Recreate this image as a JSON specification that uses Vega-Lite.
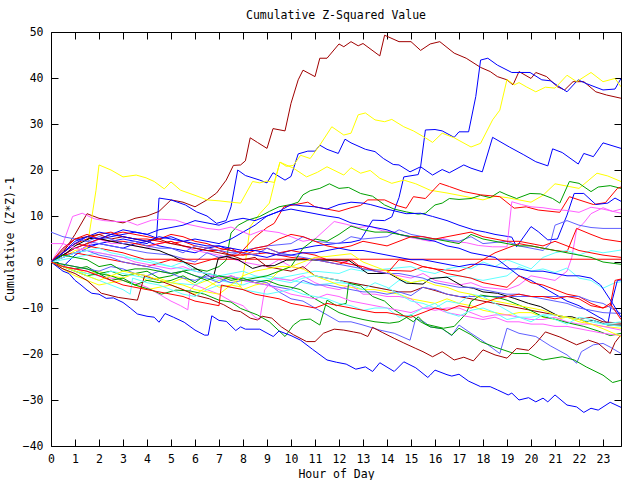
{
"$schema": "https://vega.github.io/schema/vega-lite/v6.json",
"width": 570, "height": 414, "autosize": "none",
"padding": {"left": 51, "top": 32, "right": 19, "bottom": 34},
"background": "white",
"title": {"text": "Cumulative Z-Squared Value", "font": "DejaVu Sans Mono", "fontSize": 11.5, "fontWeight": "normal", "color": "#000", "offset": 5, "anchor": "middle"},
"config": {
  "view": {"stroke": "#000", "strokeWidth": 1},
  "axis": {"domain": false, "grid": false, "tickColor": "#000", "tickSize": -7, "tickWidth": 1, "labelFont": "DejaVu Sans Mono", "labelFontSize": 11.5, "labelColor": "#000", "titleFont": "DejaVu Sans Mono", "titleFontSize": 11.5, "titleFontWeight": "normal", "titleColor": "#000", "labelFlush": false, "labelOverlap": false}
},
"datasets": {"d": [
{"s":"dr1","h":0,"v":0},{"s":"dr1","h":0.5,"v":2},{"s":"dr1","h":1,"v":6},{"s":"dr1","h":1.5,"v":10.5},{"s":"dr1","h":2,"v":9.5},{"s":"dr1","h":2.5,"v":9},{"s":"dr1","h":3,"v":8.5},{"s":"dr1","h":3.5,"v":9.5},{"s":"dr1","h":4,"v":10},{"s":"dr1","h":4.5,"v":11},{"s":"dr1","h":5,"v":13.5},{"s":"dr1","h":5.5,"v":13},{"s":"dr1","h":6,"v":12},{"s":"dr1","h":6.5,"v":13.5},{"s":"dr1","h":6.9,"v":15},{"s":"dr1","h":7.3,"v":17.8},{"s":"dr1","h":7.6,"v":21},{"s":"dr1","h":7.9,"v":21.1},{"s":"dr1","h":8.1,"v":22},{"s":"dr1","h":8.3,"v":27},{"s":"dr1","h":8.6,"v":26},{"s":"dr1","h":9,"v":24.7},{"s":"dr1","h":9.25,"v":29},{"s":"dr1","h":9.75,"v":28.5},{"s":"dr1","h":10,"v":34.5},{"s":"dr1","h":10.3,"v":39.6},{"s":"dr1","h":10.5,"v":41.7},{"s":"dr1","h":11,"v":40.3},{"s":"dr1","h":11.2,"v":44.3},{"s":"dr1","h":11.5,"v":44.3},{"s":"dr1","h":12,"v":47.4},{"s":"dr1","h":12.2,"v":46.8},{"s":"dr1","h":12.5,"v":47.9},{"s":"dr1","h":12.8,"v":47},{"s":"dr1","h":13,"v":47.5},{"s":"dr1","h":13.7,"v":44.8},{"s":"dr1","h":13.9,"v":49.3},{"s":"dr1","h":14.5,"v":47.9},{"s":"dr1","h":15,"v":47.9},{"s":"dr1","h":15.4,"v":46},{"s":"dr1","h":15.8,"v":47.4},{"s":"dr1","h":16.2,"v":47.9},{"s":"dr1","h":16.8,"v":45.4},{"s":"dr1","h":17.3,"v":44.3},{"s":"dr1","h":17.9,"v":42.3},{"s":"dr1","h":18.3,"v":41.4},{"s":"dr1","h":18.6,"v":40.3},{"s":"dr1","h":19,"v":39.6},{"s":"dr1","h":19.25,"v":38.5},{"s":"dr1","h":19.5,"v":41.4},{"s":"dr1","h":20,"v":39.9},{"s":"dr1","h":20.2,"v":41.2},{"s":"dr1","h":20.65,"v":40.3},{"s":"dr1","h":21.1,"v":38.1},{"s":"dr1","h":21.4,"v":37.4},{"s":"dr1","h":21.75,"v":39.2},{"s":"dr1","h":22.2,"v":39.2},{"s":"dr1","h":22.7,"v":37},{"s":"dr1","h":23.15,"v":36.3},{"s":"dr1","h":23.75,"v":35.6},
{"s":"b1","h":0,"v":0},{"s":"b1","h":0.5,"v":-1},{"s":"b1","h":1,"v":1.5},{"s":"b1","h":1.5,"v":3},{"s":"b1","h":2,"v":4},{"s":"b1","h":2.5,"v":3.5},{"s":"b1","h":3,"v":3},{"s":"b1","h":3.5,"v":4},{"s":"b1","h":4,"v":4.5},{"s":"b1","h":4.5,"v":3.5},{"s":"b1","h":5,"v":3},{"s":"b1","h":5.5,"v":2.5},{"s":"b1","h":6,"v":2},{"s":"b1","h":6.5,"v":3},{"s":"b1","h":7,"v":3.5},{"s":"b1","h":7.5,"v":2.5},{"s":"b1","h":8,"v":2},{"s":"b1","h":8.5,"v":1.5},{"s":"b1","h":9,"v":1},{"s":"b1","h":9.5,"v":1.8},{"s":"b1","h":10,"v":2.5},{"s":"b1","h":10.5,"v":3},{"s":"b1","h":11,"v":3.5},{"s":"b1","h":11.5,"v":3.8},{"s":"b1","h":12,"v":4.1},{"s":"b1","h":12.5,"v":4.3},{"s":"b1","h":12.9,"v":4.8},{"s":"b1","h":13.4,"v":9.1},{"s":"b1","h":13.9,"v":9},{"s":"b1","h":14.2,"v":9.8},{"s":"b1","h":14.5,"v":14},{"s":"b1","h":14.7,"v":18.5},{"s":"b1","h":15.3,"v":19},{"s":"b1","h":15.4,"v":20.7},{"s":"b1","h":15.6,"v":28.7},{"s":"b1","h":16,"v":28.8},{"s":"b1","h":16.3,"v":28.5},{"s":"b1","h":16.8,"v":27.1},{"s":"b1","h":17,"v":28.3},{"s":"b1","h":17.4,"v":28.3},{"s":"b1","h":17.7,"v":36},{"s":"b1","h":17.9,"v":43.9},{"s":"b1","h":18.2,"v":44.3},{"s":"b1","h":18.6,"v":42.8},{"s":"b1","h":19.2,"v":41.2},{"s":"b1","h":19.96,"v":41.2},{"s":"b1","h":20.45,"v":39.6},{"s":"b1","h":20.8,"v":39.4},{"s":"b1","h":21.5,"v":37},{"s":"b1","h":21.96,"v":39.6},{"s":"b1","h":22.3,"v":38.8},{"s":"b1","h":23,"v":37.4},{"s":"b1","h":23.5,"v":37.6},{"s":"b1","h":23.75,"v":39.9},
{"s":"b2","h":0,"v":0},{"s":"b2","h":0.5,"v":1},{"s":"b2","h":1,"v":2},{"s":"b2","h":1.5,"v":3.5},{"s":"b2","h":2,"v":4},{"s":"b2","h":2.5,"v":4.5},{"s":"b2","h":3,"v":5},{"s":"b2","h":3.5,"v":4.5},{"s":"b2","h":4,"v":4},{"s":"b2","h":4.4,"v":5.4},{"s":"b2","h":4.5,"v":13.9},{"s":"b2","h":5,"v":13.5},{"s":"b2","h":5.6,"v":12.4},{"s":"b2","h":6.07,"v":10.9},{"s":"b2","h":6.5,"v":10},{"s":"b2","h":6.9,"v":8.4},{"s":"b2","h":7.3,"v":9},{"s":"b2","h":7.5,"v":12},{"s":"b2","h":7.78,"v":20},{"s":"b2","h":8.1,"v":18.8},{"s":"b2","h":8.7,"v":17.8},{"s":"b2","h":9,"v":17.2},{"s":"b2","h":9.25,"v":19.4},{"s":"b2","h":9.75,"v":17.8},{"s":"b2","h":10,"v":18.6},{"s":"b2","h":10.3,"v":23.5},{"s":"b2","h":10.7,"v":24.1},{"s":"b2","h":11,"v":24.1},{"s":"b2","h":11.2,"v":25.4},{"s":"b2","h":11.5,"v":24.5},{"s":"b2","h":11.97,"v":23.6},{"s":"b2","h":12.25,"v":26.7},{"s":"b2","h":12.5,"v":25.9},{"s":"b2","h":13.1,"v":24.5},{"s":"b2","h":13.5,"v":24},{"s":"b2","h":13.85,"v":22.5},{"s":"b2","h":14.26,"v":21.2},{"s":"b2","h":14.5,"v":21.1},{"s":"b2","h":14.96,"v":19.6},{"s":"b2","h":15.4,"v":20.7},{"s":"b2","h":15.9,"v":18.9},{"s":"b2","h":16.3,"v":20.1},{"s":"b2","h":16.6,"v":19.4},{"s":"b2","h":17.2,"v":21.1},{"s":"b2","h":17.5,"v":20.4},{"s":"b2","h":17.97,"v":19.6},{"s":"b2","h":18.4,"v":27.1},{"s":"b2","h":19.1,"v":25},{"s":"b2","h":19.7,"v":23.3},{"s":"b2","h":20.2,"v":21.8},{"s":"b2","h":20.7,"v":20.9},{"s":"b2","h":20.9,"v":24.6},{"s":"b2","h":21.3,"v":23.8},{"s":"b2","h":21.97,"v":21.3},{"s":"b2","h":22.2,"v":23.6},{"s":"b2","h":22.6,"v":22.9},{"s":"b2","h":23,"v":25.9},{"s":"b2","h":23.75,"v":24.7},
{"s":"y1","h":0,"v":0},{"s":"y1","h":0.5,"v":1},{"s":"y1","h":1,"v":2.5},{"s":"y1","h":1.5,"v":3},{"s":"y1","h":1.875,"v":15.6},{"s":"y1","h":2,"v":21.1},{"s":"y1","h":2.5,"v":20},{"s":"y1","h":3,"v":18.5},{"s":"y1","h":3.55,"v":18.9},{"s":"y1","h":3.96,"v":18.3},{"s":"y1","h":4.3,"v":17.5},{"s":"y1","h":4.72,"v":15.9},{"s":"y1","h":5,"v":17.4},{"s":"y1","h":5.4,"v":15.6},{"s":"y1","h":6,"v":14.5},{"s":"y1","h":6.5,"v":13.5},{"s":"y1","h":7,"v":13.3},{"s":"y1","h":7.5,"v":13},{"s":"y1","h":7.9,"v":12.8},{"s":"y1","h":8.4,"v":17.5},{"s":"y1","h":8.7,"v":17.2},{"s":"y1","h":9,"v":17.6},{"s":"y1","h":9.3,"v":17.3},{"s":"y1","h":9.54,"v":21.7},{"s":"y1","h":10.1,"v":20.4},{"s":"y1","h":10.65,"v":18.5},{"s":"y1","h":11.1,"v":19.5},{"s":"y1","h":11.5,"v":20.7},{"s":"y1","h":12.2,"v":18.9},{"s":"y1","h":12.5,"v":20.5},{"s":"y1","h":12.9,"v":19.3},{"s":"y1","h":13.3,"v":19.9},{"s":"y1","h":13.7,"v":18.2},{"s":"y1","h":14.2,"v":17.1},{"s":"y1","h":14.7,"v":17.8},{"s":"y1","h":15.2,"v":17},{"s":"y1","h":15.8,"v":15.6},{"s":"y1","h":16.5,"v":15},{"s":"y1","h":17,"v":14.5},{"s":"y1","h":17.5,"v":14},{"s":"y1","h":18,"v":13.5},{"s":"y1","h":18.5,"v":14.3},{"s":"y1","h":19,"v":14},{"s":"y1","h":19.5,"v":13.5},{"s":"y1","h":20,"v":13},{"s":"y1","h":20.5,"v":14.5},{"s":"y1","h":21,"v":17},{"s":"y1","h":21.5,"v":16.5},{"s":"y1","h":22,"v":16},{"s":"y1","h":22.75,"v":19.3},{"s":"y1","h":23.2,"v":18.7},{"s":"y1","h":23.75,"v":17.5},
{"s":"y2","h":0,"v":0},{"s":"y2","h":0.5,"v":-1},{"s":"y2","h":1,"v":-1.5},{"s":"y2","h":1.5,"v":-2.5},{"s":"y2","h":2,"v":-2},{"s":"y2","h":2.5,"v":-3},{"s":"y2","h":3,"v":-3.5},{"s":"y2","h":3.5,"v":-2.5},{"s":"y2","h":4,"v":-4},{"s":"y2","h":4.5,"v":-3.5},{"s":"y2","h":5,"v":-4.5},{"s":"y2","h":5.5,"v":-3.5},{"s":"y2","h":6,"v":-5},{"s":"y2","h":6.5,"v":-4},{"s":"y2","h":7,"v":-5.5},{"s":"y2","h":7.5,"v":-5},{"s":"y2","h":7.9,"v":-5.4},{"s":"y2","h":8.1,"v":0},{"s":"y2","h":8.3,"v":7.7},{"s":"y2","h":8.7,"v":10.5},{"s":"y2","h":9.1,"v":12.8},{"s":"y2","h":9.3,"v":17},{"s":"y2","h":9.54,"v":21.7},{"s":"y2","h":9.8,"v":20.8},{"s":"y2","h":10.1,"v":21},{"s":"y2","h":10.4,"v":23.2},{"s":"y2","h":10.8,"v":22.5},{"s":"y2","h":11.2,"v":25.4},{"s":"y2","h":11.7,"v":29.4},{"s":"y2","h":12.2,"v":27.6},{"s":"y2","h":12.5,"v":28},{"s":"y2","h":12.8,"v":32},{"s":"y2","h":13.1,"v":32.4},{"s":"y2","h":13.5,"v":30.9},{"s":"y2","h":13.9,"v":30.5},{"s":"y2","h":14.2,"v":31},{"s":"y2","h":14.7,"v":29.4},{"s":"y2","h":15.1,"v":28.5},{"s":"y2","h":15.6,"v":27},{"s":"y2","h":15.9,"v":26},{"s":"y2","h":16.3,"v":28},{"s":"y2","h":16.8,"v":27},{"s":"y2","h":17.5,"v":25},{"s":"y2","h":17.9,"v":25.8},{"s":"y2","h":18.4,"v":30.9},{"s":"y2","h":18.7,"v":33},{"s":"y2","h":19,"v":39.7},{"s":"y2","h":19.3,"v":38.5},{"s":"y2","h":19.5,"v":39},{"s":"y2","h":19.8,"v":38.1},{"s":"y2","h":20.2,"v":37},{"s":"y2","h":20.6,"v":38},{"s":"y2","h":21,"v":37.8},{"s":"y2","h":21.5,"v":40.6},{"s":"y2","h":21.9,"v":39.2},{"s":"y2","h":22.5,"v":41.2},{"s":"y2","h":23,"v":39.2},{"s":"y2","h":23.5,"v":39.9},{"s":"y2","h":23.75,"v":38.1},
{"s":"g1","h":0,"v":0},{"s":"g1","h":0.5,"v":-1},{"s":"g1","h":1,"v":-1.5},{"s":"g1","h":1.5,"v":-1},{"s":"g1","h":2,"v":-2.5},{"s":"g1","h":2.5,"v":-2},{"s":"g1","h":3,"v":-3},{"s":"g1","h":3.5,"v":-2.5},{"s":"g1","h":4,"v":-2},{"s":"g1","h":4.5,"v":-3.5},{"s":"g1","h":5,"v":-3},{"s":"g1","h":5.5,"v":-2},{"s":"g1","h":6,"v":-1.5},{"s":"g1","h":6.5,"v":-2},{"s":"g1","h":7,"v":-1},{"s":"g1","h":7.3,"v":0.4},{"s":"g1","h":7.5,"v":6.3},{"s":"g1","h":7.8,"v":8},{"s":"g1","h":8.2,"v":9.1},{"s":"g1","h":8.7,"v":9.9},{"s":"g1","h":9.1,"v":11},{"s":"g1","h":9.5,"v":12},{"s":"g1","h":10,"v":12.5},{"s":"g1","h":10.3,"v":13},{"s":"g1","h":10.5,"v":14.6},{"s":"g1","h":10.8,"v":15.5},{"s":"g1","h":11.2,"v":16},{"s":"g1","h":11.6,"v":17},{"s":"g1","h":12,"v":16},{"s":"g1","h":12.4,"v":16.2},{"s":"g1","h":12.9,"v":14.9},{"s":"g1","h":13.4,"v":14.3},{"s":"g1","h":13.9,"v":12.4},{"s":"g1","h":14.3,"v":11.5},{"s":"g1","h":14.8,"v":10.9},{"s":"g1","h":15.3,"v":10.4},{"s":"g1","h":15.6,"v":10.6},{"s":"g1","h":16,"v":12.4},{"s":"g1","h":16.3,"v":12.8},{"s":"g1","h":16.6,"v":13.8},{"s":"g1","h":17,"v":13.6},{"s":"g1","h":17.5,"v":13.8},{"s":"g1","h":17.9,"v":14.5},{"s":"g1","h":18.3,"v":14},{"s":"g1","h":18.7,"v":15.3},{"s":"g1","h":19,"v":14.6},{"s":"g1","h":19.4,"v":13.8},{"s":"g1","h":19.96,"v":14.9},{"s":"g1","h":20.4,"v":14.8},{"s":"g1","h":20.9,"v":13.8},{"s":"g1","h":21.2,"v":12.8},{"s":"g1","h":21.6,"v":17.5},{"s":"g1","h":22,"v":17.1},{"s":"g1","h":22.5,"v":15.3},{"s":"g1","h":22.8,"v":16.3},{"s":"g1","h":23.3,"v":16.6},{"s":"g1","h":23.75,"v":16},
{"s":"r1","h":0,"v":0},{"s":"r1","h":0.5,"v":1.5},{"s":"r1","h":1,"v":2},{"s":"r1","h":1.5,"v":1.5},{"s":"r1","h":2,"v":1},{"s":"r1","h":3,"v":0},{"s":"r1","h":4,"v":-1},{"s":"r1","h":5,"v":0.5},{"s":"r1","h":6,"v":-0.5},{"s":"r1","h":7,"v":1},{"s":"r1","h":7.8,"v":1.5},{"s":"r1","h":8.2,"v":3.7},{"s":"r1","h":8.5,"v":5.4},{"s":"r1","h":9,"v":7.5},{"s":"r1","h":9.3,"v":8.4},{"s":"r1","h":9.7,"v":12},{"s":"r1","h":10.2,"v":12.5},{"s":"r1","h":10.7,"v":13},{"s":"r1","h":11,"v":12},{"s":"r1","h":11.5,"v":11.5},{"s":"r1","h":12,"v":11},{"s":"r1","h":12.5,"v":11.8},{"s":"r1","h":12.9,"v":12.3},{"s":"r1","h":13.2,"v":13.5},{"s":"r1","h":13.9,"v":13.5},{"s":"r1","h":14.4,"v":12.3},{"s":"r1","h":14.8,"v":11.7},{"s":"r1","h":15.1,"v":14.2},{"s":"r1","h":15.6,"v":13.8},{"s":"r1","h":16.2,"v":17.1},{"s":"r1","h":16.6,"v":16.4},{"s":"r1","h":17.2,"v":15.3},{"s":"r1","h":17.9,"v":14.6},{"s":"r1","h":18.7,"v":14.2},{"s":"r1","h":19.3,"v":11.7},{"s":"r1","h":19.8,"v":12},{"s":"r1","h":20.3,"v":11.3},{"s":"r1","h":21.2,"v":10.8},{"s":"r1","h":21.6,"v":14.2},{"s":"r1","h":22,"v":13.5},{"s":"r1","h":22.6,"v":12.5},{"s":"r1","h":23.1,"v":12.9},{"s":"r1","h":23.6,"v":16},{"s":"r1","h":23.75,"v":16.3},
{"s":"b3","h":0,"v":0},{"s":"b3","h":0.5,"v":1.5},{"s":"b3","h":1,"v":3},{"s":"b3","h":1.5,"v":4},{"s":"b3","h":2,"v":5},{"s":"b3","h":2.5,"v":5.5},{"s":"b3","h":3,"v":6},{"s":"b3","h":3.5,"v":6.5},{"s":"b3","h":4,"v":6},{"s":"b3","h":4.5,"v":5},{"s":"b3","h":5,"v":5.5},{"s":"b3","h":5.5,"v":4.5},{"s":"b3","h":6,"v":5},{"s":"b3","h":6.5,"v":4.5},{"s":"b3","h":7,"v":4},{"s":"b3","h":7.5,"v":5},{"s":"b3","h":8,"v":6.5},{"s":"b3","h":8.5,"v":8},{"s":"b3","h":9,"v":10},{"s":"b3","h":9.5,"v":11},{"s":"b3","h":10,"v":12.5},{"s":"b3","h":10.5,"v":12.2},{"s":"b3","h":11,"v":12},{"s":"b3","h":11.5,"v":11.5},{"s":"b3","h":12,"v":12.5},{"s":"b3","h":12.5,"v":13},{"s":"b3","h":13,"v":12.8},{"s":"b3","h":13.3,"v":12.5},{"s":"b3","h":14,"v":11.5},{"s":"b3","h":14.8,"v":10.5},{"s":"b3","h":15.4,"v":10.6},{"s":"b3","h":15.9,"v":9.9},{"s":"b3","h":16.5,"v":9},{"s":"b3","h":17,"v":8},{"s":"b3","h":17.6,"v":7},{"s":"b3","h":18.1,"v":6.5},{"s":"b3","h":18.5,"v":6},{"s":"b3","h":19.2,"v":5.4},{"s":"b3","h":19.4,"v":3.3},{"s":"b3","h":20,"v":7.7},{"s":"b3","h":20.3,"v":6.6},{"s":"b3","h":20.7,"v":4.8},{"s":"b3","h":21.1,"v":5},{"s":"b3","h":21.5,"v":10.2},{"s":"b3","h":21.8,"v":14.9},{"s":"b3","h":22.2,"v":14.9},{"s":"b3","h":22.7,"v":12.5},{"s":"b3","h":23.2,"v":12.8},{"s":"b3","h":23.5,"v":13.9},{"s":"b3","h":23.75,"v":13.2},
{"s":"m1","h":0,"v":0},{"s":"m1","h":0.25,"v":2},{"s":"m1","h":0.5,"v":4},{"s":"m1","h":0.9,"v":9.9},{"s":"m1","h":1.3,"v":10.6},{"s":"m1","h":1.8,"v":9.4},{"s":"m1","h":2.2,"v":9},{"s":"m1","h":2.7,"v":8.8},{"s":"m1","h":3.2,"v":8.8},{"s":"m1","h":3.6,"v":8},{"s":"m1","h":4.2,"v":9.1},{"s":"m1","h":4.6,"v":9.3},{"s":"m1","h":5.2,"v":9.1},{"s":"m1","h":5.7,"v":8.2},{"s":"m1","h":6.5,"v":7.3},{"s":"m1","h":7,"v":7},{"s":"m1","h":7.5,"v":7.6},{"s":"m1","h":8.3,"v":5.9},{"s":"m1","h":8.8,"v":6.9},{"s":"m1","h":9.5,"v":6.4},{"s":"m1","h":10,"v":5.5},{"s":"m1","h":10.5,"v":4.5},{"s":"m1","h":11,"v":5},{"s":"m1","h":11.8,"v":8.8},{"s":"m1","h":12.3,"v":8.2},{"s":"m1","h":12.8,"v":7.5},{"s":"m1","h":13.3,"v":7.8},{"s":"m1","h":13.8,"v":6.8},{"s":"m1","h":14.3,"v":6.5},{"s":"m1","h":14.8,"v":5.5},{"s":"m1","h":15.3,"v":5},{"s":"m1","h":15.8,"v":4.5},{"s":"m1","h":16.3,"v":5.2},{"s":"m1","h":16.8,"v":4.4},{"s":"m1","h":17.3,"v":4.2},{"s":"m1","h":17.8,"v":3.6},{"s":"m1","h":18.4,"v":3.3},{"s":"m1","h":19,"v":3.3},{"s":"m1","h":19.2,"v":13.1},{"s":"m1","h":19.6,"v":12.5},{"s":"m1","h":20,"v":12},{"s":"m1","h":20.5,"v":11.8},{"s":"m1","h":21,"v":11.4},{"s":"m1","h":21.5,"v":11.2},{"s":"m1","h":22,"v":10.8},{"s":"m1","h":22.5,"v":11.9},{"s":"m1","h":23,"v":11.5},{"s":"m1","h":23.75,"v":10.6},
{"s":"m2","h":0,"v":0},{"s":"m2","h":0.5,"v":1},{"s":"m2","h":1,"v":2},{"s":"m2","h":1.5,"v":3.5},{"s":"m2","h":2,"v":5},{"s":"m2","h":2.5,"v":4},{"s":"m2","h":3,"v":4},{"s":"m2","h":3.5,"v":3.5},{"s":"m2","h":4,"v":3},{"s":"m2","h":4.5,"v":4},{"s":"m2","h":5,"v":4.5},{"s":"m2","h":5.5,"v":3.5},{"s":"m2","h":6,"v":2.5},{"s":"m2","h":7,"v":1.5},{"s":"m2","h":8,"v":0},{"s":"m2","h":9,"v":-1},{"s":"m2","h":9.5,"v":0.5},{"s":"m2","h":10,"v":-1},{"s":"m2","h":10.5,"v":-1.5},{"s":"m2","h":11,"v":1},{"s":"m2","h":11.5,"v":0.5},{"s":"m2","h":12,"v":0.5},{"s":"m2","h":12.5,"v":-0.5},{"s":"m2","h":13,"v":-1},{"s":"m2","h":14,"v":-2.5},{"s":"m2","h":15,"v":-3.5},{"s":"m2","h":15.5,"v":-2.5},{"s":"m2","h":16,"v":-4},{"s":"m2","h":17,"v":-5},{"s":"m2","h":17.5,"v":-4.5},{"s":"m2","h":18,"v":-5.5},{"s":"m2","h":19,"v":-6},{"s":"m2","h":19.5,"v":-5},{"s":"m2","h":20,"v":-3},{"s":"m2","h":20.5,"v":-3.5},{"s":"m2","h":21,"v":-4},{"s":"m2","h":21.5,"v":-2},{"s":"m2","h":21.7,"v":1},{"s":"m2","h":21.9,"v":7},{"s":"m2","h":22.2,"v":8.5},{"s":"m2","h":22.5,"v":10.5},{"s":"m2","h":23,"v":11.8},{"s":"m2","h":23.4,"v":11},{"s":"m2","h":23.75,"v":11.5},
{"s":"s1","h":0,"v":0},{"s":"s1","h":0.5,"v":3},{"s":"s1","h":1,"v":5},{"s":"s1","h":1.5,"v":4.5},{"s":"s1","h":2,"v":4},{"s":"s1","h":2.5,"v":3.5},{"s":"s1","h":3,"v":3},{"s":"s1","h":3.5,"v":2.5},{"s":"s1","h":4,"v":2},{"s":"s1","h":5,"v":1.5},{"s":"s1","h":6,"v":0},{"s":"s1","h":6.5,"v":2},{"s":"s1","h":7,"v":1},{"s":"s1","h":7.5,"v":1.5},{"s":"s1","h":8,"v":2.5},{"s":"s1","h":9,"v":3.5},{"s":"s1","h":10,"v":4},{"s":"s1","h":10.5,"v":5.5},{"s":"s1","h":11,"v":4.5},{"s":"s1","h":12,"v":4},{"s":"s1","h":12.5,"v":5.5},{"s":"s1","h":13,"v":5},{"s":"s1","h":14,"v":5.5},{"s":"s1","h":14.5,"v":7},{"s":"s1","h":15,"v":6},{"s":"s1","h":15.5,"v":5.5},{"s":"s1","h":16,"v":5},{"s":"s1","h":17,"v":4.5},{"s":"s1","h":17.5,"v":5.5},{"s":"s1","h":18,"v":4},{"s":"s1","h":19,"v":4.5},{"s":"s1","h":19.5,"v":3.5},{"s":"s1","h":20,"v":3},{"s":"s1","h":20.5,"v":2.5},{"s":"s1","h":20.8,"v":4},{"s":"s1","h":21,"v":8},{"s":"s1","h":21.5,"v":9},{"s":"s1","h":22,"v":8},{"s":"s1","h":22.5,"v":7.5},{"s":"s1","h":23,"v":7.3},{"s":"s1","h":23.75,"v":7.3},
{"s":"r2","h":0,"v":0},{"s":"r2","h":0.5,"v":2},{"s":"r2","h":1,"v":4},{"s":"r2","h":1.5,"v":5},{"s":"r2","h":2,"v":6},{"s":"r2","h":2.5,"v":6.5},{"s":"r2","h":3,"v":5.5},{"s":"r2","h":3.5,"v":5},{"s":"r2","h":4,"v":5},{"s":"r2","h":4.5,"v":4.5},{"s":"r2","h":5,"v":4},{"s":"r2","h":5.5,"v":4.5},{"s":"r2","h":6,"v":3.5},{"s":"r2","h":7,"v":2.5},{"s":"r2","h":7.5,"v":3},{"s":"r2","h":8,"v":1.5},{"s":"r2","h":9,"v":2},{"s":"r2","h":9.5,"v":1.5},{"s":"r2","h":10,"v":1},{"s":"r2","h":11,"v":0.5},{"s":"r2","h":12,"v":-0.5},{"s":"r2","h":12.5,"v":0.5},{"s":"r2","h":13,"v":-1.5},{"s":"r2","h":14,"v":-1.8},{"s":"r2","h":15,"v":-2},{"s":"r2","h":15.5,"v":-1},{"s":"r2","h":16,"v":-1.5},{"s":"r2","h":17,"v":-2},{"s":"r2","h":17.5,"v":-1},{"s":"r2","h":18,"v":0.5},{"s":"r2","h":18.5,"v":2},{"s":"r2","h":19,"v":3},{"s":"r2","h":19.5,"v":4},{"s":"r2","h":20,"v":3.5},{"s":"r2","h":20.5,"v":3},{"s":"r2","h":21,"v":2.5},{"s":"r2","h":21.5,"v":2.2},{"s":"r2","h":21.9,"v":7.3},{"s":"r2","h":22.5,"v":6},{"s":"r2","h":23,"v":5},{"s":"r2","h":23.75,"v":4.4},
{"s":"c1","h":0,"v":0},{"s":"c1","h":0.5,"v":-1},{"s":"c1","h":1,"v":-2},{"s":"c1","h":1.5,"v":-2.5},{"s":"c1","h":2,"v":-3},{"s":"c1","h":2.5,"v":-2},{"s":"c1","h":3,"v":-2.5},{"s":"c1","h":3.5,"v":-3},{"s":"c1","h":4,"v":-3.5},{"s":"c1","h":5,"v":-4.5},{"s":"c1","h":6,"v":-5},{"s":"c1","h":6.5,"v":-3.5},{"s":"c1","h":7,"v":-4},{"s":"c1","h":8,"v":-5},{"s":"c1","h":8.5,"v":-4},{"s":"c1","h":9,"v":-4},{"s":"c1","h":10,"v":-3},{"s":"c1","h":11,"v":-2},{"s":"c1","h":12,"v":-2.5},{"s":"c1","h":12.5,"v":-1.5},{"s":"c1","h":13,"v":-2},{"s":"c1","h":14,"v":-1.5},{"s":"c1","h":15,"v":-1},{"s":"c1","h":15.5,"v":-2},{"s":"c1","h":16,"v":-2.5},{"s":"c1","h":16.5,"v":-1.5},{"s":"c1","h":17,"v":-1},{"s":"c1","h":17.5,"v":-1.5},{"s":"c1","h":18,"v":0},{"s":"c1","h":18.5,"v":-1},{"s":"c1","h":19,"v":0.5},{"s":"c1","h":19.5,"v":-0.5},{"s":"c1","h":20,"v":-1.5},{"s":"c1","h":20.5,"v":1},{"s":"c1","h":21,"v":2},{"s":"c1","h":21.5,"v":2.5},{"s":"c1","h":22,"v":1.5},{"s":"c1","h":22.5,"v":2.5},{"s":"c1","h":23,"v":2},{"s":"c1","h":23.75,"v":2.6},
{"s":"c2","h":0,"v":0},{"s":"c2","h":0.5,"v":0.5},{"s":"c2","h":1,"v":1},{"s":"c2","h":1.5,"v":1.5},{"s":"c2","h":2,"v":2},{"s":"c2","h":2.5,"v":1.5},{"s":"c2","h":3,"v":1},{"s":"c2","h":4,"v":0.5},{"s":"c2","h":5,"v":-1},{"s":"c2","h":5.5,"v":0},{"s":"c2","h":6,"v":-2},{"s":"c2","h":7,"v":-3},{"s":"c2","h":8,"v":-3.5},{"s":"c2","h":9,"v":-3},{"s":"c2","h":10,"v":-4},{"s":"c2","h":11,"v":-5},{"s":"c2","h":12,"v":-4.5},{"s":"c2","h":13,"v":-5},{"s":"c2","h":14,"v":-6},{"s":"c2","h":14.5,"v":-4},{"s":"c2","h":15,"v":-4.5},{"s":"c2","h":16,"v":-3.5},{"s":"c2","h":17,"v":-3},{"s":"c2","h":18,"v":-4},{"s":"c2","h":19,"v":-3},{"s":"c2","h":19.5,"v":-1},{"s":"c2","h":20,"v":-2},{"s":"c2","h":20.5,"v":-1.5},{"s":"c2","h":21,"v":-2.3},{"s":"c2","h":21.5,"v":-1.3},{"s":"c2","h":22,"v":-3.5},{"s":"c2","h":22.5,"v":-4},{"s":"c2","h":23,"v":-5.7},{"s":"c2","h":23.5,"v":-4.5},{"s":"c2","h":23.75,"v":-4.3},
{"s":"r3","h":0,"v":0},{"s":"r3","h":0.5,"v":2},{"s":"r3","h":1,"v":4},{"s":"r3","h":1.5,"v":3.5},{"s":"r3","h":2,"v":3},{"s":"r3","h":2.5,"v":2.5},{"s":"r3","h":3,"v":2},{"s":"r3","h":3.5,"v":1.2},{"s":"r3","h":3.9,"v":0.6},{"s":"r3","h":23.75,"v":0.6},
{"s":"b4","h":0,"v":0},{"s":"b4","h":0.5,"v":2},{"s":"b4","h":1,"v":4},{"s":"b4","h":1.5,"v":5.5},{"s":"b4","h":2,"v":6.5},{"s":"b4","h":2.5,"v":6},{"s":"b4","h":3,"v":7},{"s":"b4","h":3.5,"v":6.5},{"s":"b4","h":4,"v":6},{"s":"b4","h":4.5,"v":7},{"s":"b4","h":5,"v":7.5},{"s":"b4","h":5.5,"v":8},{"s":"b4","h":6,"v":9},{"s":"b4","h":6.5,"v":8.5},{"s":"b4","h":7,"v":8},{"s":"b4","h":7.5,"v":9},{"s":"b4","h":8,"v":9.5},{"s":"b4","h":8.5,"v":9},{"s":"b4","h":9,"v":10},{"s":"b4","h":9.5,"v":11},{"s":"b4","h":10,"v":11.5},{"s":"b4","h":10.5,"v":11},{"s":"b4","h":11,"v":10.5},{"s":"b4","h":11.5,"v":10},{"s":"b4","h":12,"v":9.6},{"s":"b4","h":12.5,"v":8.5},{"s":"b4","h":13,"v":8},{"s":"b4","h":13.5,"v":7.5},{"s":"b4","h":14,"v":7},{"s":"b4","h":14.5,"v":6},{"s":"b4","h":15,"v":5.5},{"s":"b4","h":15.5,"v":5},{"s":"b4","h":16,"v":4.5},{"s":"b4","h":16.5,"v":3.5},{"s":"b4","h":17,"v":3},{"s":"b4","h":17.5,"v":2},{"s":"b4","h":18,"v":1.5},{"s":"b4","h":18.5,"v":1},{"s":"b4","h":19,"v":-1},{"s":"b4","h":19.5,"v":-3},{"s":"b4","h":20,"v":-4},{"s":"b4","h":20.5,"v":-5.5},{"s":"b4","h":21,"v":-7},{"s":"b4","h":21.5,"v":-8.5},{"s":"b4","h":22,"v":-9.5},{"s":"b4","h":22.5,"v":-11},{"s":"b4","h":23,"v":-12.5},{"s":"b4","h":23.2,"v":-13.5},{"s":"b4","h":23.4,"v":-8},{"s":"b4","h":23.6,"v":-4},{"s":"b4","h":23.75,"v":-3.9},
{"s":"r4","h":0,"v":0},{"s":"r4","h":0.5,"v":1.5},{"s":"r4","h":1,"v":3},{"s":"r4","h":1.5,"v":4},{"s":"r4","h":2,"v":5},{"s":"r4","h":2.5,"v":4.5},{"s":"r4","h":3,"v":4.5},{"s":"r4","h":3.5,"v":4},{"s":"r4","h":4,"v":3.5},{"s":"r4","h":4.5,"v":4},{"s":"r4","h":5,"v":4.5},{"s":"r4","h":5.5,"v":3.5},{"s":"r4","h":6,"v":3},{"s":"r4","h":6.5,"v":2.5},{"s":"r4","h":7,"v":2.5},{"s":"r4","h":7.5,"v":1.5},{"s":"r4","h":8,"v":1.5},{"s":"r4","h":8.5,"v":2.5},{"s":"r4","h":9,"v":3},{"s":"r4","h":9.5,"v":2},{"s":"r4","h":10,"v":2.5},{"s":"r4","h":10.5,"v":2},{"s":"r4","h":11,"v":1.5},{"s":"r4","h":11.5,"v":0.5},{"s":"r4","h":12,"v":0},{"s":"r4","h":12.5,"v":-0.5},{"s":"r4","h":13,"v":-1},{"s":"r4","h":13.5,"v":-2},{"s":"r4","h":14,"v":-2.5},{"s":"r4","h":14.5,"v":0.5},{"s":"r4","h":15,"v":0},{"s":"r4","h":15.5,"v":-1},{"s":"r4","h":16,"v":-1.5},{"s":"r4","h":16.5,"v":-2.5},{"s":"r4","h":17,"v":-3},{"s":"r4","h":17.5,"v":-3.5},{"s":"r4","h":18,"v":-4.5},{"s":"r4","h":18.5,"v":-5},{"s":"r4","h":19,"v":-5.5},{"s":"r4","h":19.5,"v":-3},{"s":"r4","h":20,"v":-4.5},{"s":"r4","h":20.5,"v":-5},{"s":"r4","h":21,"v":-6},{"s":"r4","h":21.5,"v":-7},{"s":"r4","h":22,"v":-7.5},{"s":"r4","h":22.5,"v":-9},{"s":"r4","h":23,"v":-10},{"s":"r4","h":23.3,"v":-9.5},{"s":"r4","h":23.5,"v":-4},{"s":"r4","h":23.75,"v":-3.7},
{"s":"k","h":0,"v":0},{"s":"k","h":0.3,"v":1},{"s":"k","h":0.65,"v":2},{"s":"k","h":1,"v":3.5},{"s":"k","h":1.6,"v":5.1},{"s":"k","h":2,"v":5.1},{"s":"k","h":2.5,"v":4.5},{"s":"k","h":3,"v":4},{"s":"k","h":3.3,"v":3.7},{"s":"k","h":4,"v":3},{"s":"k","h":4.5,"v":2.5},{"s":"k","h":5.1,"v":1.2},{"s":"k","h":5.8,"v":-0.7},{"s":"k","h":6.5,"v":-2.8},{"s":"k","h":6.75,"v":-3.6},{"s":"k","h":6.97,"v":0.8},{"s":"k","h":7.3,"v":1.2},{"s":"k","h":7.8,"v":0.5},{"s":"k","h":8.4,"v":-1.4},{"s":"k","h":8.8,"v":-0.8},{"s":"k","h":9.3,"v":-0.8},{"s":"k","h":9.8,"v":0.4},{"s":"k","h":10.5,"v":0.5},{"s":"k","h":11.2,"v":0.4},{"s":"k","h":11.8,"v":0.4},{"s":"k","h":12.4,"v":0.4},{"s":"k","h":13.2,"v":-2.5},{"s":"k","h":14.1,"v":-2.5},{"s":"k","h":14.8,"v":-4.6},{"s":"k","h":15.5,"v":-4.8},{"s":"k","h":15.8,"v":-3.6},{"s":"k","h":16.5,"v":-3.3},{"s":"k","h":17.2,"v":-5.4},{"s":"k","h":17.6,"v":-5.7},{"s":"k","h":18,"v":-6.5},{"s":"k","h":18.6,"v":-6.8},{"s":"k","h":19.3,"v":-7.9},{"s":"k","h":19.9,"v":-9},{"s":"k","h":20.4,"v":-9.7},{"s":"k","h":21.2,"v":-11.9},{"s":"k","h":21.7,"v":-11.9},{"s":"k","h":22.3,"v":-13},{"s":"k","h":22.6,"v":-12.7},{"s":"k","h":23.2,"v":-13.7},{"s":"k","h":23.75,"v":-13.7},
{"s":"dr2","h":0,"v":0},{"s":"dr2","h":0.5,"v":2.5},{"s":"dr2","h":1,"v":5},{"s":"dr2","h":1.5,"v":5.5},{"s":"dr2","h":2,"v":6},{"s":"dr2","h":2.5,"v":5},{"s":"dr2","h":3,"v":5.5},{"s":"dr2","h":3.5,"v":5},{"s":"dr2","h":4,"v":4.5},{"s":"dr2","h":4.5,"v":5},{"s":"dr2","h":5,"v":4},{"s":"dr2","h":5.5,"v":3.5},{"s":"dr2","h":6,"v":3},{"s":"dr2","h":6.5,"v":2.5},{"s":"dr2","h":7,"v":2},{"s":"dr2","h":7.5,"v":1.5},{"s":"dr2","h":8,"v":0.5},{"s":"dr2","h":8.5,"v":1},{"s":"dr2","h":9,"v":-1},{"s":"dr2","h":9.5,"v":-1.5},{"s":"dr2","h":10,"v":-2},{"s":"dr2","h":10.5,"v":-1},{"s":"dr2","h":11,"v":-3},{"s":"dr2","h":11.5,"v":-3.5},{"s":"dr2","h":12,"v":-4},{"s":"dr2","h":12.5,"v":-4.5},{"s":"dr2","h":13,"v":-5},{"s":"dr2","h":13.5,"v":-5.5},{"s":"dr2","h":14,"v":-6},{"s":"dr2","h":14.5,"v":-6.5},{"s":"dr2","h":15,"v":-6.5},{"s":"dr2","h":15.5,"v":-5.5},{"s":"dr2","h":16,"v":-6.2},{"s":"dr2","h":16.5,"v":-7},{"s":"dr2","h":17,"v":-7.5},{"s":"dr2","h":17.5,"v":-8},{"s":"dr2","h":18,"v":-8.5},{"s":"dr2","h":18.5,"v":-9},{"s":"dr2","h":19,"v":-9.5},{"s":"dr2","h":19.5,"v":-10},{"s":"dr2","h":20,"v":-10.5},{"s":"dr2","h":20.5,"v":-11},{"s":"dr2","h":21,"v":-11.5},{"s":"dr2","h":21.5,"v":-12},{"s":"dr2","h":22,"v":-12.5},{"s":"dr2","h":22.5,"v":-12},{"s":"dr2","h":23,"v":-13},{"s":"dr2","h":23.75,"v":-13.3},
{"s":"y3","h":0,"v":0},{"s":"y3","h":0.5,"v":-1.5},{"s":"y3","h":1,"v":-3},{"s":"y3","h":1.5,"v":-4},{"s":"y3","h":2,"v":-5},{"s":"y3","h":2.5,"v":-4.5},{"s":"y3","h":3,"v":-4},{"s":"y3","h":3.5,"v":-5},{"s":"y3","h":4,"v":-6},{"s":"y3","h":4.5,"v":-5.5},{"s":"y3","h":5,"v":-5},{"s":"y3","h":5.5,"v":-6},{"s":"y3","h":6,"v":-7},{"s":"y3","h":6.5,"v":-5.5},{"s":"y3","h":7,"v":-4},{"s":"y3","h":7.5,"v":-3},{"s":"y3","h":8,"v":-6},{"s":"y3","h":8.5,"v":-5},{"s":"y3","h":9,"v":-4.5},{"s":"y3","h":9.5,"v":-2},{"s":"y3","h":10,"v":-1},{"s":"y3","h":10.5,"v":-1.5},{"s":"y3","h":11,"v":-3},{"s":"y3","h":11.5,"v":-4},{"s":"y3","h":12,"v":-5},{"s":"y3","h":12.5,"v":-5.5},{"s":"y3","h":13,"v":-6},{"s":"y3","h":13.5,"v":-6},{"s":"y3","h":14,"v":-6.5},{"s":"y3","h":14.5,"v":-7},{"s":"y3","h":15,"v":-8},{"s":"y3","h":15.5,"v":-8.5},{"s":"y3","h":16,"v":-9},{"s":"y3","h":16.5,"v":-8},{"s":"y3","h":17,"v":-9},{"s":"y3","h":17.5,"v":-9.5},{"s":"y3","h":18,"v":-10.5},{"s":"y3","h":18.5,"v":-11},{"s":"y3","h":19,"v":-11.5},{"s":"y3","h":19.5,"v":-11},{"s":"y3","h":20,"v":-11},{"s":"y3","h":20.5,"v":-12},{"s":"y3","h":21,"v":-12.5},{"s":"y3","h":21.5,"v":-12},{"s":"y3","h":22,"v":-13},{"s":"y3","h":22.5,"v":-13.5},{"s":"y3","h":23,"v":-14},{"s":"y3","h":23.75,"v":-14.4},
{"s":"m3","h":0,"v":0},{"s":"m3","h":0.5,"v":-1},{"s":"m3","h":1,"v":-1.5},{"s":"m3","h":1.5,"v":-2},{"s":"m3","h":2,"v":-3},{"s":"m3","h":2.5,"v":-3.5},{"s":"m3","h":3,"v":-4},{"s":"m3","h":3.5,"v":-4.5},{"s":"m3","h":4,"v":-5.5},{"s":"m3","h":4.5,"v":-7},{"s":"m3","h":5,"v":-8.5},{"s":"m3","h":5.4,"v":-9.5},{"s":"m3","h":5.7,"v":-10.4},{"s":"m3","h":5.8,"v":-6},{"s":"m3","h":6,"v":-5},{"s":"m3","h":6.5,"v":-6},{"s":"m3","h":7,"v":-7},{"s":"m3","h":7.5,"v":-8.5},{"s":"m3","h":8,"v":-9.5},{"s":"m3","h":8.5,"v":-12},{"s":"m3","h":8.7,"v":-12.5},{"s":"m3","h":8.9,"v":-6.1},{"s":"m3","h":9.3,"v":-3.5},{"s":"m3","h":9.7,"v":-3.8},{"s":"m3","h":10,"v":-4},{"s":"m3","h":10.5,"v":-3},{"s":"m3","h":11,"v":-4.5},{"s":"m3","h":11.5,"v":-5.5},{"s":"m3","h":12,"v":-6},{"s":"m3","h":12.5,"v":-5},{"s":"m3","h":13,"v":-7},{"s":"m3","h":13.5,"v":-7},{"s":"m3","h":14,"v":-7.5},{"s":"m3","h":14.5,"v":-7.5},{"s":"m3","h":15,"v":-8},{"s":"m3","h":15.5,"v":-10},{"s":"m3","h":16,"v":-10.5},{"s":"m3","h":16.5,"v":-10},{"s":"m3","h":17,"v":-10},{"s":"m3","h":17.5,"v":-11},{"s":"m3","h":18,"v":-12},{"s":"m3","h":18.5,"v":-11.5},{"s":"m3","h":19,"v":-11.5},{"s":"m3","h":19.5,"v":-12},{"s":"m3","h":20,"v":-12.5},{"s":"m3","h":20.5,"v":-12.5},{"s":"m3","h":21,"v":-12},{"s":"m3","h":21.5,"v":-13},{"s":"m3","h":22,"v":-13.5},{"s":"m3","h":22.5,"v":-13.5},{"s":"m3","h":23,"v":-14},{"s":"m3","h":23.75,"v":-14.8},
{"s":"s2","h":0,"v":0},{"s":"s2","h":0.5,"v":-0.5},{"s":"s2","h":1,"v":-1},{"s":"s2","h":1.5,"v":-1.5},{"s":"s2","h":2,"v":-2},{"s":"s2","h":2.5,"v":-1},{"s":"s2","h":3,"v":-1.5},{"s":"s2","h":3.5,"v":-2.5},{"s":"s2","h":4,"v":-3},{"s":"s2","h":4.5,"v":-2},{"s":"s2","h":5,"v":-2.5},{"s":"s2","h":5.5,"v":-3.5},{"s":"s2","h":6,"v":-4},{"s":"s2","h":6.5,"v":-3},{"s":"s2","h":7,"v":-3.5},{"s":"s2","h":7.5,"v":-4.5},{"s":"s2","h":8,"v":-4},{"s":"s2","h":8.5,"v":-4},{"s":"s2","h":9,"v":-4.5},{"s":"s2","h":9.5,"v":-6.5},{"s":"s2","h":10,"v":-8},{"s":"s2","h":10.5,"v":-8.5},{"s":"s2","h":11,"v":-10},{"s":"s2","h":11.5,"v":-11.5},{"s":"s2","h":12,"v":-13},{"s":"s2","h":12.5,"v":-13},{"s":"s2","h":13,"v":-13.7},{"s":"s2","h":13.7,"v":-14.8},{"s":"s2","h":14.3,"v":-15.5},{"s":"s2","h":14.96,"v":-17},{"s":"s2","h":15.2,"v":-12.2},{"s":"s2","h":15.6,"v":-13.2},{"s":"s2","h":15.8,"v":-14.1},{"s":"s2","h":16.3,"v":-14.5},{"s":"s2","h":16.7,"v":-16},{"s":"s2","h":17,"v":-13.7},{"s":"s2","h":17.5,"v":-15.5},{"s":"s2","h":18,"v":-17.2},{"s":"s2","h":18.7,"v":-19.9},{"s":"s2","h":19,"v":-14.4},{"s":"s2","h":19.5,"v":-15.5},{"s":"s2","h":20.2,"v":-16.2},{"s":"s2","h":20.8,"v":-18.2},{"s":"s2","h":21.5,"v":-20.2},{"s":"s2","h":21.9,"v":-22},{"s":"s2","h":22.1,"v":-19.5},{"s":"s2","h":22.6,"v":-18},{"s":"s2","h":23,"v":-17.7},{"s":"s2","h":23.3,"v":-18.5},{"s":"s2","h":23.75,"v":-19.9},
{"s":"s3","h":0,"v":0},{"s":"s3","h":0.5,"v":1},{"s":"s3","h":1,"v":2},{"s":"s3","h":1.5,"v":2.5},{"s":"s3","h":2,"v":1.5},{"s":"s3","h":2.5,"v":1},{"s":"s3","h":3,"v":0},{"s":"s3","h":3.5,"v":-0.5},{"s":"s3","h":4,"v":-1},{"s":"s3","h":4.5,"v":-1.5},{"s":"s3","h":5,"v":-2.5},{"s":"s3","h":5.5,"v":-2},{"s":"s3","h":6,"v":-3},{"s":"s3","h":6.5,"v":-3.5},{"s":"s3","h":7,"v":-4.5},{"s":"s3","h":7.5,"v":-3},{"s":"s3","h":8,"v":-4},{"s":"s3","h":8.5,"v":-4.5},{"s":"s3","h":9,"v":-5},{"s":"s3","h":9.5,"v":-5.5},{"s":"s3","h":10,"v":-6},{"s":"s3","h":10.5,"v":-4},{"s":"s3","h":11,"v":-5},{"s":"s3","h":11.5,"v":-5},{"s":"s3","h":12,"v":-5.5},{"s":"s3","h":12.5,"v":-6},{"s":"s3","h":13,"v":-6.5},{"s":"s3","h":13.5,"v":-6.5},{"s":"s3","h":14,"v":-7},{"s":"s3","h":14.5,"v":-6.5},{"s":"s3","h":15,"v":-7.3},{"s":"s3","h":15.5,"v":-5.5},{"s":"s3","h":16,"v":-6},{"s":"s3","h":16.5,"v":-7},{"s":"s3","h":17,"v":-7.5},{"s":"s3","h":17.5,"v":-7.5},{"s":"s3","h":22,"v":-7.5},{"s":"s3","h":22.5,"v":-8.5},{"s":"s3","h":23,"v":-9},{"s":"s3","h":23.5,"v":-10.5},{"s":"s3","h":23.75,"v":-11.2},
{"s":"g2","h":0,"v":0},{"s":"g2","h":0.5,"v":-1},{"s":"g2","h":1,"v":-2},{"s":"g2","h":1.5,"v":-3},{"s":"g2","h":2,"v":-2.5},{"s":"g2","h":2.5,"v":-4},{"s":"g2","h":3,"v":-3.5},{"s":"g2","h":3.5,"v":-5},{"s":"g2","h":4,"v":-4},{"s":"g2","h":4.5,"v":-4.5},{"s":"g2","h":5,"v":-4},{"s":"g2","h":5.5,"v":-3},{"s":"g2","h":6,"v":-4.5},{"s":"g2","h":6.5,"v":-2.5},{"s":"g2","h":7,"v":-3},{"s":"g2","h":7.5,"v":-4},{"s":"g2","h":8,"v":-3.5},{"s":"g2","h":8.5,"v":-4.5},{"s":"g2","h":9,"v":-4},{"s":"g2","h":9.5,"v":-5},{"s":"g2","h":10,"v":-5.5},{"s":"g2","h":10.4,"v":-6},{"s":"g2","h":11,"v":-8},{"s":"g2","h":11.5,"v":-9.5},{"s":"g2","h":12,"v":-11},{"s":"g2","h":12.5,"v":-11.9},{"s":"g2","h":13,"v":-12.5},{"s":"g2","h":13.5,"v":-13},{"s":"g2","h":14.1,"v":-13.3},{"s":"g2","h":14.5,"v":-13},{"s":"g2","h":15,"v":-11.5},{"s":"g2","h":15.4,"v":-13},{"s":"g2","h":15.8,"v":-14.1},{"s":"g2","h":16.3,"v":-14.5},{"s":"g2","h":16.7,"v":-15.9},{"s":"g2","h":17,"v":-14.4},{"s":"g2","h":17.5,"v":-15.8},{"s":"g2","h":17.9,"v":-17.3},{"s":"g2","h":18.5,"v":-18.5},{"s":"g2","h":19.3,"v":-19.9},{"s":"g2","h":19.9,"v":-19.9},{"s":"g2","h":20.5,"v":-21.3},{"s":"g2","h":21.3,"v":-20.6},{"s":"g2","h":21.8,"v":-21.3},{"s":"g2","h":22.3,"v":-22.8},{"s":"g2","h":23,"v":-24.6},{"s":"g2","h":23.4,"v":-26.2},{"s":"g2","h":23.75,"v":-25.7},
{"s":"g3","h":0,"v":0},{"s":"g3","h":0.5,"v":-0.5},{"s":"g3","h":1,"v":-1},{"s":"g3","h":1.5,"v":-1.5},{"s":"g3","h":2,"v":-2.5},{"s":"g3","h":2.5,"v":-3},{"s":"g3","h":3,"v":-4},{"s":"g3","h":3.5,"v":-5},{"s":"g3","h":4.2,"v":-6.1},{"s":"g3","h":4.6,"v":-7},{"s":"g3","h":5.2,"v":-6.1},{"s":"g3","h":5.8,"v":-6.3},{"s":"g3","h":6.4,"v":-7},{"s":"g3","h":7,"v":-8.3},{"s":"g3","h":7.5,"v":-8.7},{"s":"g3","h":7.9,"v":-10.1},{"s":"g3","h":8.6,"v":-11.5},{"s":"g3","h":9.1,"v":-13},{"s":"g3","h":9.75,"v":-16.2},{"s":"g3","h":10.1,"v":-13.7},{"s":"g3","h":10.4,"v":-12.6},{"s":"g3","h":10.8,"v":-12.4},{"s":"g3","h":11.2,"v":-13.7},{"s":"g3","h":11.5,"v":-8.3},{"s":"g3","h":11.9,"v":-9.5},{"s":"g3","h":12.3,"v":-9},{"s":"g3","h":12.4,"v":-4.6},{"s":"g3","h":12.9,"v":-5.2},{"s":"g3","h":13.4,"v":-7.5},{"s":"g3","h":13.9,"v":-8.5},{"s":"g3","h":14.3,"v":-10.4},{"s":"g3","h":14.8,"v":-12},{"s":"g3","h":15.1,"v":-13},{"s":"g3","h":15.3,"v":-11.9},{"s":"g3","h":15.6,"v":-13.5},{"s":"g3","h":16.35,"v":-14.4},{"s":"g3","h":16.8,"v":-14},{"s":"g3","h":17.3,"v":-11.2},{"s":"g3","h":17.5,"v":-8.6},{"s":"g3","h":17.9,"v":-7.2},{"s":"g3","h":18.6,"v":-7.7},{"s":"g3","h":19,"v":-8.3},{"s":"g3","h":19.7,"v":-9.8},{"s":"g3","h":20.5,"v":-11.9},{"s":"g3","h":20.9,"v":-12.3},{"s":"g3","h":21.6,"v":-13.3},{"s":"g3","h":22.2,"v":-14},{"s":"g3","h":22.8,"v":-15},{"s":"g3","h":23.3,"v":-16},{"s":"g3","h":23.75,"v":-15.5},
{"s":"dr3","h":0,"v":0},{"s":"dr3","h":0.5,"v":-1.5},{"s":"dr3","h":1,"v":-2.5},{"s":"dr3","h":1.5,"v":-4},{"s":"dr3","h":2.1,"v":-6.8},{"s":"dr3","h":2.8,"v":-7.7},{"s":"dr3","h":3.6,"v":-8.3},{"s":"dr3","h":3.9,"v":-3},{"s":"dr3","h":4.5,"v":-4},{"s":"dr3","h":5,"v":-5},{"s":"dr3","h":5.5,"v":-6},{"s":"dr3","h":6,"v":-7.2},{"s":"dr3","h":6.6,"v":-8},{"s":"dr3","h":7.2,"v":-9.3},{"s":"dr3","h":7.6,"v":-10.5},{"s":"dr3","h":7.9,"v":-10.8},{"s":"dr3","h":8.3,"v":-12.2},{"s":"dr3","h":8.6,"v":-12.6},{"s":"dr3","h":8.8,"v":-11.8},{"s":"dr3","h":9.2,"v":-12.2},{"s":"dr3","h":9.6,"v":-14.1},{"s":"dr3","h":10.1,"v":-15.8},{"s":"dr3","h":10.65,"v":-17.3},{"s":"dr3","h":11,"v":-17.3},{"s":"dr3","h":11.35,"v":-15.5},{"s":"dr3","h":11.8,"v":-14.6},{"s":"dr3","h":12.2,"v":-14.8},{"s":"dr3","h":12.6,"v":-15.2},{"s":"dr3","h":12.9,"v":-15.5},{"s":"dr3","h":13.2,"v":-16.2},{"s":"dr3","h":13.4,"v":-14.2},{"s":"dr3","h":13.8,"v":-15.3},{"s":"dr3","h":14.3,"v":-16.6},{"s":"dr3","h":14.7,"v":-17.6},{"s":"dr3","h":15.2,"v":-18.8},{"s":"dr3","h":15.5,"v":-19.5},{"s":"dr3","h":15.9,"v":-20.6},{"s":"dr3","h":16.3,"v":-19.5},{"s":"dr3","h":16.8,"v":-21.3},{"s":"dr3","h":17.2,"v":-20.7},{"s":"dr3","h":17.6,"v":-21.5},{"s":"dr3","h":18,"v":-19.1},{"s":"dr3","h":18.5,"v":-20.2},{"s":"dr3","h":19,"v":-20.9},{"s":"dr3","h":19.4,"v":-18.8},{"s":"dr3","h":19.9,"v":-19.2},{"s":"dr3","h":20.2,"v":-17.7},{"s":"dr3","h":20.6,"v":-15.2},{"s":"dr3","h":21.2,"v":-16.3},{"s":"dr3","h":21.9,"v":-18},{"s":"dr3","h":22.4,"v":-17},{"s":"dr3","h":22.8,"v":-17.7},{"s":"dr3","h":23.3,"v":-19.9},{"s":"dr3","h":23.5,"v":-17.5},{"s":"dr3","h":23.75,"v":-15.8},
{"s":"b5","h":0,"v":0},{"s":"b5","h":0.25,"v":-1},{"s":"b5","h":0.5,"v":-2},{"s":"b5","h":0.75,"v":-2.5},{"s":"b5","h":1,"v":-4},{"s":"b5","h":1.25,"v":-5},{"s":"b5","h":1.5,"v":-6.1},{"s":"b5","h":1.7,"v":-6.8},{"s":"b5","h":2,"v":-7},{"s":"b5","h":2.3,"v":-7.9},{"s":"b5","h":2.6,"v":-7.8},{"s":"b5","h":3,"v":-8.8},{"s":"b5","h":3.3,"v":-10},{"s":"b5","h":3.6,"v":-11.3},{"s":"b5","h":4,"v":-11.8},{"s":"b5","h":4.3,"v":-12},{"s":"b5","h":4.5,"v":-13.1},{"s":"b5","h":4.75,"v":-11.2},{"s":"b5","h":5.1,"v":-12},{"s":"b5","h":5.55,"v":-13.1},{"s":"b5","h":6,"v":-14.8},{"s":"b5","h":6.4,"v":-15.9},{"s":"b5","h":6.55,"v":-15.9},{"s":"b5","h":6.7,"v":-11.7},{"s":"b5","h":7,"v":-12.7},{"s":"b5","h":7.3,"v":-12.9},{"s":"b5","h":7.7,"v":-14.9},{"s":"b5","h":7.9,"v":-14.1},{"s":"b5","h":8.1,"v":-14.6},{"s":"b5","h":8.7,"v":-14.6},{"s":"b5","h":9.26,"v":-16.2},{"s":"b5","h":9.5,"v":-15},{"s":"b5","h":10,"v":-16},{"s":"b5","h":10.4,"v":-17},{"s":"b5","h":10.9,"v":-19},{"s":"b5","h":11.5,"v":-21.3},{"s":"b5","h":11.9,"v":-21.8},{"s":"b5","h":12.3,"v":-22.2},{"s":"b5","h":12.7,"v":-23.3},{"s":"b5","h":13.1,"v":-22.8},{"s":"b5","h":13.4,"v":-23.8},{"s":"b5","h":13.7,"v":-21.9},{"s":"b5","h":14.3,"v":-23.8},{"s":"b5","h":14.7,"v":-21.7},{"s":"b5","h":15.2,"v":-23},{"s":"b5","h":15.7,"v":-25.1},{"s":"b5","h":15.8,"v":-24.6},{"s":"b5","h":16,"v":-23.5},{"s":"b5","h":16.5,"v":-24.5},{"s":"b5","h":16.7,"v":-24.8},{"s":"b5","h":17,"v":-24.4},{"s":"b5","h":17.4,"v":-25.9},{"s":"b5","h":17.9,"v":-27.1},{"s":"b5","h":18.3,"v":-27.1},{"s":"b5","h":18.6,"v":-27.8},{"s":"b5","h":19.05,"v":-28.9},{"s":"b5","h":19.2,"v":-28.5},{"s":"b5","h":19.5,"v":-30},{"s":"b5","h":19.9,"v":-29.5},{"s":"b5","h":20.2,"v":-30.4},{"s":"b5","h":20.5,"v":-29.6},{"s":"b5","h":20.7,"v":-30.4},{"s":"b5","h":21,"v":-28.9},{"s":"b5","h":21.5,"v":-31.1},{"s":"b5","h":21.9,"v":-31.5},{"s":"b5","h":22.2,"v":-32.7},{"s":"b5","h":22.5,"v":-31.8},{"s":"b5","h":22.8,"v":-32.2},{"s":"b5","h":23.3,"v":-30.5},{"s":"b5","h":23.75,"v":-31.6},
{"s":"s4","h":0,"v":6.5},{"s":"s4","h":0.5,"v":5.5},{"s":"s4","h":1,"v":5},{"s":"s4","h":1.5,"v":4.5},{"s":"s4","h":2,"v":5.5},{"s":"s4","h":2.5,"v":5},{"s":"s4","h":3,"v":4},{"s":"s4","h":3.5,"v":4.5},{"s":"s4","h":4,"v":3.5},{"s":"s4","h":4.5,"v":3},{"s":"s4","h":5,"v":3},{"s":"s4","h":5.5,"v":2},{"s":"s4","h":6,"v":3.5},{"s":"s4","h":6.5,"v":3},{"s":"s4","h":7,"v":2.5},{"s":"s4","h":7.5,"v":2},{"s":"s4","h":8,"v":2},{"s":"s4","h":8.5,"v":1.5},{"s":"s4","h":9,"v":3},{"s":"s4","h":9.5,"v":2},{"s":"s4","h":10,"v":1.5},{"s":"s4","h":10.5,"v":1},{"s":"s4","h":11,"v":0.5},{"s":"s4","h":11.5,"v":0},{"s":"s4","h":12,"v":-0.5},{"s":"s4","h":12.5,"v":-1},{"s":"s4","h":13,"v":-1.5},{"s":"s4","h":13.5,"v":-2},{"s":"s4","h":14,"v":-2.5},{"s":"s4","h":14.5,"v":-2.5},{"s":"s4","h":15,"v":-3},{"s":"s4","h":15.5,"v":-3.5},{"s":"s4","h":16,"v":-4.5},{"s":"s4","h":16.5,"v":-5},{"s":"s4","h":17,"v":-5.5},{"s":"s4","h":17.5,"v":-5.5},{"s":"s4","h":18,"v":-6},{"s":"s4","h":18.5,"v":-6.5},{"s":"s4","h":19,"v":-7},{"s":"s4","h":19.5,"v":-7},{"s":"s4","h":20,"v":-7.5},{"s":"s4","h":20.5,"v":-8},{"s":"s4","h":21,"v":-8.5},{"s":"s4","h":21.5,"v":-9},{"s":"s4","h":22,"v":-10},{"s":"s4","h":22.5,"v":-10.5},{"s":"s4","h":23,"v":-11},{"s":"s4","h":23.75,"v":-11.2},
{"s":"m4","h":0,"v":4},{"s":"m4","h":0.5,"v":4},{"s":"m4","h":1,"v":3},{"s":"m4","h":1.5,"v":2.5},{"s":"m4","h":2,"v":2},{"s":"m4","h":2.5,"v":1.5},{"s":"m4","h":3,"v":1},{"s":"m4","h":3.5,"v":0},{"s":"m4","h":4,"v":-0.5},{"s":"m4","h":4.5,"v":-1},{"s":"m4","h":5,"v":-1.5},{"s":"m4","h":5.5,"v":-1},{"s":"m4","h":6,"v":-2},{"s":"m4","h":6.5,"v":-2.5},{"s":"m4","h":7,"v":-3.5},{"s":"m4","h":7.5,"v":-3},{"s":"m4","h":8,"v":-4},{"s":"m4","h":8.5,"v":-4.5},{"s":"m4","h":9,"v":-5},{"s":"m4","h":9.5,"v":-6},{"s":"m4","h":10,"v":-7},{"s":"m4","h":10.5,"v":-7.5},{"s":"m4","h":11,"v":-8},{"s":"m4","h":11.5,"v":-7},{"s":"m4","h":12,"v":-7.5},{"s":"m4","h":12.5,"v":-8.5},{"s":"m4","h":13,"v":-9},{"s":"m4","h":13.5,"v":-9.5},{"s":"m4","h":14,"v":-10},{"s":"m4","h":14.5,"v":-10.5},{"s":"m4","h":15,"v":-11},{"s":"m4","h":15.5,"v":-10},{"s":"m4","h":16,"v":-10},{"s":"m4","h":16.5,"v":-11},{"s":"m4","h":17,"v":-11.5},{"s":"m4","h":17.5,"v":-12},{"s":"m4","h":18,"v":-12.5},{"s":"m4","h":18.5,"v":-12},{"s":"m4","h":19,"v":-13},{"s":"m4","h":19.5,"v":-13},{"s":"m4","h":20,"v":-13.5},{"s":"m4","h":20.5,"v":-13.5},{"s":"m4","h":21,"v":-14},{"s":"m4","h":21.5,"v":-14},{"s":"m4","h":22,"v":-14.5},{"s":"m4","h":22.5,"v":-15},{"s":"m4","h":23,"v":-15.5},{"s":"m4","h":23.75,"v":-16},
{"s":"c3","h":0,"v":0},{"s":"c3","h":0.5,"v":-1},{"s":"c3","h":1,"v":-2},{"s":"c3","h":1.5,"v":-3},{"s":"c3","h":2,"v":-4},{"s":"c3","h":2.5,"v":-5},{"s":"c3","h":3,"v":-6},{"s":"c3","h":3.3,"v":-7},{"s":"c3","h":3.4,"v":-3.5},{"s":"c3","h":4,"v":-4.5},{"s":"c3","h":4.5,"v":-5},{"s":"c3","h":5,"v":-6},{"s":"c3","h":5.5,"v":-7},{"s":"c3","h":6,"v":-7.5},{"s":"c3","h":6.5,"v":-6},{"s":"c3","h":7,"v":-5},{"s":"c3","h":7.5,"v":-5.5},{"s":"c3","h":8,"v":-6},{"s":"c3","h":8.5,"v":-6.5},{"s":"c3","h":9,"v":-7},{"s":"c3","h":9.5,"v":-6.5},{"s":"c3","h":10,"v":-6},{"s":"c3","h":10.5,"v":-7},{"s":"c3","h":11,"v":-7.5},{"s":"c3","h":11.5,"v":-8},{"s":"c3","h":12,"v":-9},{"s":"c3","h":12.5,"v":-9.5},{"s":"c3","h":13,"v":-10.5},{"s":"c3","h":13.5,"v":-10},{"s":"c3","h":14,"v":-10},{"s":"c3","h":14.5,"v":-12},{"s":"c3","h":15,"v":-11.5},{"s":"c3","h":15.5,"v":-10},{"s":"c3","h":16,"v":-9},{"s":"c3","h":16.5,"v":-11},{"s":"c3","h":17,"v":-11.8},{"s":"c3","h":17.5,"v":-10.5},{"s":"c3","h":18,"v":-10},{"s":"c3","h":18.5,"v":-11},{"s":"c3","h":19,"v":-12.5},{"s":"c3","h":19.5,"v":-12},{"s":"c3","h":20,"v":-12},{"s":"c3","h":20.5,"v":-11.5},{"s":"c3","h":21,"v":-11.5},{"s":"c3","h":21.5,"v":-12},{"s":"c3","h":22,"v":-12.5},{"s":"c3","h":22.5,"v":-13},{"s":"c3","h":23,"v":-13.5},{"s":"c3","h":23.75,"v":-13},
{"s":"c4","h":0,"v":0},{"s":"c4","h":0.5,"v":1},{"s":"c4","h":1,"v":2},{"s":"c4","h":1.5,"v":2.5},{"s":"c4","h":2,"v":3},{"s":"c4","h":2.5,"v":2},{"s":"c4","h":3,"v":1.5},{"s":"c4","h":3.5,"v":0.5},{"s":"c4","h":4,"v":0},{"s":"c4","h":4.5,"v":-0.5},{"s":"c4","h":5,"v":-1},{"s":"c4","h":5.5,"v":-1.5},{"s":"c4","h":6,"v":-2},{"s":"c4","h":6.5,"v":-2.5},{"s":"c4","h":7,"v":-3},{"s":"c4","h":7.5,"v":-2.5},{"s":"c4","h":8,"v":-2},{"s":"c4","h":8.5,"v":-3},{"s":"c4","h":9,"v":-3.5},{"s":"c4","h":9.5,"v":-4},{"s":"c4","h":10,"v":-4.5},{"s":"c4","h":10.5,"v":-3.5},{"s":"c4","h":11,"v":-3},{"s":"c4","h":11.5,"v":-3.5},{"s":"c4","h":12,"v":-4},{"s":"c4","h":12.5,"v":-5},{"s":"c4","h":13,"v":-6},{"s":"c4","h":13.5,"v":-4.5},{"s":"c4","h":14,"v":-5.5},{"s":"c4","h":14.5,"v":-7},{"s":"c4","h":15,"v":-8.5},{"s":"c4","h":15.5,"v":-9},{"s":"c4","h":16,"v":-10},{"s":"c4","h":16.5,"v":-8.5},{"s":"c4","h":17,"v":-9},{"s":"c4","h":17.5,"v":-7},{"s":"c4","h":18,"v":-7.5},{"s":"c4","h":18.5,"v":-9},{"s":"c4","h":19,"v":-10.5},{"s":"c4","h":19.5,"v":-12},{"s":"c4","h":20,"v":-13},{"s":"c4","h":20.5,"v":-11.5},{"s":"c4","h":21,"v":-12.5},{"s":"c4","h":21.5,"v":-13.5},{"s":"c4","h":22,"v":-12},{"s":"c4","h":22.5,"v":-12.5},{"s":"c4","h":23,"v":-13.5},{"s":"c4","h":23.75,"v":-14},
{"s":"g4","h":0,"v":0},{"s":"g4","h":0.5,"v":1.5},{"s":"g4","h":1,"v":1},{"s":"g4","h":1.5,"v":0.5},{"s":"g4","h":2,"v":-1},{"s":"g4","h":2.5,"v":-0.5},{"s":"g4","h":3,"v":-2},{"s":"g4","h":3.5,"v":-1.5},{"s":"g4","h":4,"v":-1.5},{"s":"g4","h":4.5,"v":-2},{"s":"g4","h":5,"v":-2.5},{"s":"g4","h":5.5,"v":-2},{"s":"g4","h":6,"v":-3},{"s":"g4","h":6.5,"v":-4},{"s":"g4","h":7,"v":-3},{"s":"g4","h":7.5,"v":-3.5},{"s":"g4","h":8,"v":-4},{"s":"g4","h":8.5,"v":-3.5},{"s":"g4","h":9,"v":-3},{"s":"g4","h":9.5,"v":-2},{"s":"g4","h":10,"v":-1},{"s":"g4","h":10.5,"v":3},{"s":"g4","h":11,"v":5},{"s":"g4","h":11.5,"v":4.5},{"s":"g4","h":12,"v":6},{"s":"g4","h":12.5,"v":7.8},{"s":"g4","h":13,"v":7},{"s":"g4","h":13.5,"v":6.5},{"s":"g4","h":14,"v":6.5},{"s":"g4","h":14.5,"v":6},{"s":"g4","h":15,"v":5.5},{"s":"g4","h":15.5,"v":5},{"s":"g4","h":16,"v":5},{"s":"g4","h":16.5,"v":4.5},{"s":"g4","h":17,"v":4},{"s":"g4","h":17.5,"v":6},{"s":"g4","h":18,"v":5},{"s":"g4","h":18.5,"v":4.5},{"s":"g4","h":19,"v":4},{"s":"g4","h":19.5,"v":3.5},{"s":"g4","h":20,"v":3.5},{"s":"g4","h":20.5,"v":3},{"s":"g4","h":21,"v":2.5},{"s":"g4","h":21.5,"v":2},{"s":"g4","h":22,"v":1.5},{"s":"g4","h":22.5,"v":1},{"s":"g4","h":23,"v":0},{"s":"g4","h":23.75,"v":-0.5},
{"s":"y4","h":0,"v":0},{"s":"y4","h":0.5,"v":-1},{"s":"y4","h":1,"v":-2},{"s":"y4","h":1.5,"v":-3},{"s":"y4","h":2,"v":-4},{"s":"y4","h":2.5,"v":-3},{"s":"y4","h":3,"v":-2},{"s":"y4","h":3.5,"v":-2.5},{"s":"y4","h":4,"v":-3},{"s":"y4","h":4.5,"v":-4},{"s":"y4","h":5,"v":-4.5},{"s":"y4","h":5.5,"v":-5},{"s":"y4","h":6,"v":-6},{"s":"y4","h":6.5,"v":-6.5},{"s":"y4","h":7,"v":-7},{"s":"y4","h":7.5,"v":-5},{"s":"y4","h":8,"v":-3},{"s":"y4","h":8.5,"v":-2},{"s":"y4","h":9,"v":-1.5},{"s":"y4","h":9.5,"v":-1},{"s":"y4","h":10,"v":-1},{"s":"y4","h":10.5,"v":0},{"s":"y4","h":11,"v":1},{"s":"y4","h":11.5,"v":1.2},{"s":"y4","h":12,"v":1.5},{"s":"y4","h":12.5,"v":1.8},{"s":"y4","h":13,"v":0},{"s":"y4","h":13.5,"v":-1},{"s":"y4","h":14,"v":-2},{"s":"y4","h":14.5,"v":-3.5},{"s":"y4","h":15,"v":-4.5},{"s":"y4","h":15.5,"v":-4},{"s":"y4","h":16,"v":-5},{"s":"y4","h":16.5,"v":-5.5},{"s":"y4","h":17,"v":-6.5},{"s":"y4","h":17.5,"v":-7},{"s":"y4","h":18,"v":-8},{"s":"y4","h":18.5,"v":-8.5},{"s":"y4","h":19,"v":-9},{"s":"y4","h":19.5,"v":-9.5},{"s":"y4","h":20,"v":-10},{"s":"y4","h":20.5,"v":-10.5},{"s":"y4","h":21,"v":-11.5},{"s":"y4","h":21.5,"v":-12},{"s":"y4","h":22,"v":-12.5},{"s":"y4","h":22.5,"v":-13.5},{"s":"y4","h":23,"v":-14.5},{"s":"y4","h":23.75,"v":-16.2},
{"s":"r6","h":0,"v":0},{"s":"r6","h":0.5,"v":3},{"s":"r6","h":1,"v":5},{"s":"r6","h":1.5,"v":6},{"s":"r6","h":2,"v":5},{"s":"r6","h":2.5,"v":6},{"s":"r6","h":3,"v":6.5},{"s":"r6","h":3.5,"v":6},{"s":"r6","h":4,"v":5.5},{"s":"r6","h":4.5,"v":5},{"s":"r6","h":5,"v":6},{"s":"r6","h":5.5,"v":5.5},{"s":"r6","h":6,"v":4.5},{"s":"r6","h":6.5,"v":4},{"s":"r6","h":7,"v":3},{"s":"r6","h":7.5,"v":2.5},{"s":"r6","h":8,"v":2},{"s":"r6","h":8.5,"v":3},{"s":"r6","h":9,"v":3.5},{"s":"r6","h":9.5,"v":5},{"s":"r6","h":10,"v":6},{"s":"r6","h":10.5,"v":5.5},{"s":"r6","h":11,"v":4.5},{"s":"r6","h":11.5,"v":3.5},{"s":"r6","h":12,"v":3},{"s":"r6","h":12.5,"v":3.5},{"s":"r6","h":13,"v":4.5},{"s":"r6","h":13.5,"v":4},{"s":"r6","h":14,"v":3.5},{"s":"r6","h":14.5,"v":4.5},{"s":"r6","h":15,"v":5.5},{"s":"r6","h":15.5,"v":5.5},{"s":"r6","h":16,"v":5},{"s":"r6","h":16.5,"v":5.5},{"s":"r6","h":17,"v":6},{"s":"r6","h":17.5,"v":6.5},{"s":"r6","h":18,"v":5.5},{"s":"r6","h":18.5,"v":5},{"s":"r6","h":19,"v":4.5},{"s":"r6","h":19.5,"v":4.5},{"s":"r6","h":20,"v":4},{"s":"r6","h":20.5,"v":3.5},{"s":"r6","h":21,"v":4.5},{"s":"r6","h":21.5,"v":3.5},{"s":"r6","h":22,"v":2.5},{"s":"r6","h":22.5,"v":2},{"s":"r6","h":23,"v":1.5},{"s":"r6","h":23.75,"v":1},
{"s":"b6","h":0,"v":0},{"s":"b6","h":0.5,"v":2},{"s":"b6","h":1,"v":4.5},{"s":"b6","h":1.5,"v":5.5},{"s":"b6","h":2,"v":5},{"s":"b6","h":2.5,"v":6},{"s":"b6","h":3,"v":5.5},{"s":"b6","h":3.5,"v":5},{"s":"b6","h":4,"v":4.5},{"s":"b6","h":4.5,"v":5.5},{"s":"b6","h":5,"v":5},{"s":"b6","h":5.5,"v":4.5},{"s":"b6","h":6,"v":4},{"s":"b6","h":6.5,"v":3.5},{"s":"b6","h":7,"v":3.5},{"s":"b6","h":7.5,"v":3},{"s":"b6","h":8,"v":2.5},{"s":"b6","h":8.5,"v":2.5},{"s":"b6","h":9,"v":2},{"s":"b6","h":9.5,"v":1.5},{"s":"b6","h":10,"v":1.5},{"s":"b6","h":10.5,"v":2},{"s":"b6","h":11,"v":2},{"s":"b6","h":11.5,"v":2.5},{"s":"b6","h":12,"v":3},{"s":"b6","h":12.5,"v":2.5},{"s":"b6","h":13,"v":2.5},{"s":"b6","h":13.5,"v":2},{"s":"b6","h":14,"v":1.5},{"s":"b6","h":14.5,"v":1},{"s":"b6","h":15,"v":0.5},{"s":"b6","h":15.5,"v":0.5},{"s":"b6","h":16,"v":0},{"s":"b6","h":16.5,"v":-0.5},{"s":"b6","h":17,"v":-1},{"s":"b6","h":17.5,"v":-0.5},{"s":"b6","h":18,"v":-0.5},{"s":"b6","h":18.5,"v":-1},{"s":"b6","h":19,"v":-1.5},{"s":"b6","h":19.5,"v":-1.5},{"s":"b6","h":20,"v":-2},{"s":"b6","h":20.5,"v":-2},{"s":"b6","h":21,"v":-2.5},{"s":"b6","h":21.5,"v":-3},{"s":"b6","h":22,"v":-3},{"s":"b6","h":22.5,"v":-3.5},{"s":"b6","h":22.9,"v":-5},{"s":"b6","h":23.4,"v":-9},{"s":"b6","h":23.75,"v":-12},
{"s":"r7","h":0,"v":0},{"s":"r7","h":0.5,"v":-1},{"s":"r7","h":1,"v":-1.5},{"s":"r7","h":1.5,"v":-2},{"s":"r7","h":2,"v":-3},{"s":"r7","h":2.5,"v":-4},{"s":"r7","h":3,"v":-5},{"s":"r7","h":3.5,"v":-5.5},{"s":"r7","h":4,"v":-6},{"s":"r7","h":4.5,"v":-6.5},{"s":"r7","h":5,"v":-7},{"s":"r7","h":5.5,"v":-7.5},{"s":"r7","h":6,"v":-8.5},{"s":"r7","h":6.5,"v":-9},{"s":"r7","h":7,"v":-9.5},{"s":"r7","h":7.1,"v":-5},{"s":"r7","h":7.5,"v":-5.5},{"s":"r7","h":8,"v":-6},{"s":"r7","h":8.5,"v":-7},{"s":"r7","h":9,"v":-7.5},{"s":"r7","h":9.5,"v":-8},{"s":"r7","h":10,"v":-9},{"s":"r7","h":10.5,"v":-9.5},{"s":"r7","h":11,"v":-10},{"s":"r7","h":11.5,"v":-9},{"s":"r7","h":12,"v":-9.5},{"s":"r7","h":12.5,"v":-10},{"s":"r7","h":13,"v":-10.5},{"s":"r7","h":13.5,"v":-11},{"s":"r7","h":14,"v":-11},{"s":"r7","h":14.5,"v":-11.5},{"s":"r7","h":15,"v":-12},{"s":"r7","h":15.5,"v":-11},{"s":"r7","h":16,"v":-10},{"s":"r7","h":16.5,"v":-10.5},{"s":"r7","h":17,"v":-9.5},{"s":"r7","h":17.5,"v":-10},{"s":"r7","h":18,"v":-9},{"s":"r7","h":18.5,"v":-8},{"s":"r7","h":19,"v":-7.5},{"s":"r7","h":19.5,"v":-7},{"s":"r7","h":20,"v":-7.5},{"s":"r7","h":20.5,"v":-7.5},{"s":"r7","h":21,"v":-8},{"s":"r7","h":21.5,"v":-7.5},{"s":"r7","h":22,"v":-8},{"s":"r7","h":22.5,"v":-9.5},{"s":"r7","h":23,"v":-10},{"s":"r7","h":23.3,"v":-9},{"s":"r7","h":23.75,"v":-12.5}
]},
"data": {"name": "d"},
"layer": [
 {"mark": {"type": "line", "strokeWidth": 1, "clip": true},
  "encoding": {
   "x": {"field": "h", "type": "quantitative", "scale": {"domain": [0, 23.75], "nice": false, "zero": false},
         "axis": {"orient": "bottom", "values": [0,1,2,3,4,5,6,7,8,9,10,11,12,13,14,15,16,17,18,19,20,21,22,23], "format": "d", "labelPadding": 14, "title": "Hour of Day", "titleX": 285, "titleY": 28, "titleBaseline": "middle", "titleAlign": "center"}},
   "y": {"field": "v", "type": "quantitative", "scale": {"domain": [-40, 50], "nice": false, "zero": false},
         "axis": {"orient": "left", "values": [-40,-30,-20,-10,0,10,20,30,40,50], "format": "d", "labelPadding": 15, "title": "Cumulative (Z*Z)-1", "titleX": -41, "titleY": 207, "titleBaseline": "middle", "titleAlign": "center", "titleAngle": 270}},
   "color": {"field": "s", "type": "nominal", "legend": null,
     "scale": {"domain": ["dr1","b1","b2","y1","y2","g1","r1","b3","m1","m2","s1","r2","c1","c2","r3","b4","r4","k","dr2","y3","m3","s2","s3","g2","g3","dr3","b5","s4","m4","c3","c4","g4","y4","r6","b6","r7"],
               "range": ["#a00000","#0000ff","#0000ff","#ffff00","#ffff00","#00a000","#ff0000","#0000ff","#ff60ff","#ff60ff","#6060ff","#ff0000","#60ffff","#60ffff","#ff0000","#0000ff","#ff0000","#000000","#a00000","#ffff00","#ff60ff","#6060ff","#6060ff","#00a000","#00a000","#a00000","#0000ff","#6060ff","#ff60ff","#60ffff","#60ffff","#00a000","#ffff00","#ff0000","#0000ff","#ff0000"]}}
  }},
 {"mark": {"type": "line", "opacity": 0},
  "encoding": {
   "x": {"field": "h", "type": "quantitative", "axis": {"orient": "top", "values": [0,1,2,3,4,5,6,7,8,9,10,11,12,13,14,15,16,17,18,19,20,21,22,23], "labels": false, "title": null}},
   "y": {"field": "v", "type": "quantitative", "axis": {"orient": "right", "values": [-40,-30,-20,-10,0,10,20,30,40,50], "labels": false, "title": null}},
   "detail": {"field": "s", "type": "nominal"}
  }}
],
"resolve": {"axis": {"x": "independent", "y": "independent"}}
}
